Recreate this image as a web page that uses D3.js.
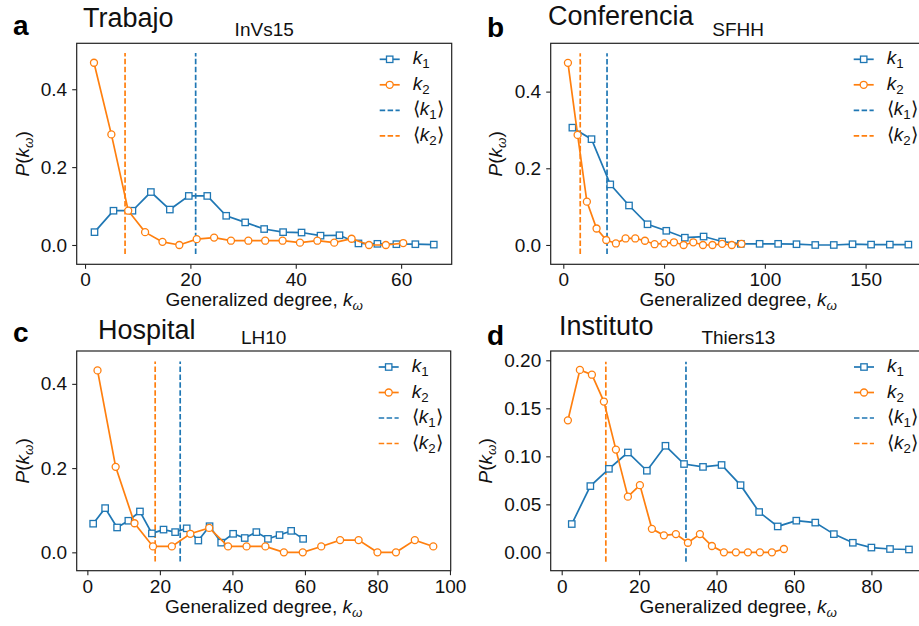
<!DOCTYPE html>
<html>
<head>
<meta charset="utf-8">
<script src="https://cdn.jsdelivr.net/npm/d3@7"></script>
<style>
  body { margin: 0; background: #fff; }
  svg { font-family: "Liberation Sans", Arial, Helvetica, sans-serif; }
</style>
</head>
<body>
<svg width="919" height="626"></svg>
<script>
// Panel a - InVs15 (Trabajo)
var invsK1x = [1.8, 5.4, 9.0, 12.5, 16.1, 19.7, 23.2, 26.8, 30.4, 34.0, 37.6, 41.1, 44.7, 48.3, 51.9, 55.5, 59.1, 62.7, 66.2];
var invsK1y = [0.033, 0.088, 0.088, 0.136, 0.091, 0.126, 0.126, 0.075, 0.058, 0.041, 0.033, 0.032, 0.024, 0.025, 0.004, 0.003, 0.002, 0.002, 0.001];
var invsK2x = [1.7, 5.0, 8.2, 11.4, 14.7, 17.9, 21.2, 24.5, 27.7, 31.0, 34.2, 37.5, 40.8, 44.1, 47.3, 50.6, 53.9, 57.1, 60.4];
var invsK2y = [0.468, 0.284, 0.088, 0.033, 0.008, 0.0, 0.015, 0.019, 0.011, 0.011, 0.011, 0.011, 0.006, 0.011, 0.006, 0.016, 0.0, 0.0, 0.005];

// Panel b - SFHH (Conferencia)
var sfhhK1x = [4.5, 14.0, 23.3, 32.6, 41.8, 51.1, 60.3, 69.6, 78.8, 88.1, 97.4, 106.6, 115.7, 125.0, 134.2, 143.5, 152.7, 162.0, 171.2];
var sfhhK1y = [0.306, 0.276, 0.158, 0.103, 0.054, 0.037, 0.019, 0.022, 0.009, 0.003, 0.003, 0.003, 0.002, 0.0, 0.0, 0.002, 0.001, 0.001, 0.001];
var sfhhK2x = [2.3, 7.1, 11.7, 16.5, 21.3, 26.1, 30.9, 35.7, 40.5, 45.3, 50.1, 54.9, 59.7, 64.5, 69.3, 74.0, 78.8, 83.6, 88.4];
var sfhhK2y = [0.475, 0.287, 0.113, 0.043, 0.013, 0.004, 0.017, 0.017, 0.011, 0.002, 0.004, 0.007, 0.0, 0.007, 0.0, 0.0, 0.003, 0.0, 0.003];

// Panel c - LH10 (Hospital)
var lhK1x = [1.6, 4.9, 8.2, 11.3, 14.5, 17.8, 21.0, 24.2, 27.4, 30.6, 33.7, 36.9, 40.2, 43.4, 46.6, 49.8, 53.0, 56.2, 59.5];
var lhK1y = [0.068, 0.105, 0.059, 0.075, 0.097, 0.045, 0.054, 0.048, 0.057, 0.028, 0.062, 0.023, 0.044, 0.034, 0.048, 0.032, 0.041, 0.051, 0.032];
var lhK2x = [2.8, 7.8, 13.0, 18.1, 23.3, 28.4, 33.6, 38.8, 43.9, 49.1, 54.2, 59.4, 64.5, 69.7, 74.8, 80.0, 85.1, 90.3, 95.4];
var lhK2y = [0.432, 0.203, 0.069, 0.014, 0.014, 0.044, 0.058, 0.014, 0.014, 0.014, 0.0, 0.0, 0.014, 0.029, 0.029, 0.0, 0.0, 0.029, 0.014];

// Panel d - Thiers13 (Instituto)
var thK1x = [2.6, 7.4, 12.2, 17.1, 22.0, 26.8, 31.6, 36.5, 41.3, 46.2, 51.0, 55.8, 60.6, 65.5, 70.3, 75.2, 80.0, 84.8, 89.7];
var thK1y = [0.0295, 0.069, 0.087, 0.104, 0.085, 0.111, 0.092, 0.089, 0.091, 0.070, 0.042, 0.027, 0.033, 0.031, 0.019, 0.010, 0.005, 0.0035, 0.003];
var thK2x = [1.6, 4.7, 7.8, 10.9, 14.0, 17.1, 20.2, 23.3, 26.4, 29.5, 32.6, 35.7, 38.8, 41.9, 45.0, 48.1, 51.2, 54.3, 57.4];
var thK2y = [0.1375, 0.190, 0.185, 0.157, 0.107, 0.058, 0.070, 0.0245, 0.0177, 0.019, 0.010, 0.019, 0.0066, 0.0, 0.0, 0.0, 0.0, 0.0, 0.0035];

// means <k1>, <k2> for panels a..d
var meanK1 = [21.0, 21.7, 25.6, 32.1];
var meanK2 = [7.6, 8.4, 18.7, 11.4];

var letters = ['a', 'b', 'c', 'd'];
var names = ['Trabajo', 'Conferencia', 'Hospital', 'Instituto'];
var datasets = ['InVs15', 'SFHH', 'LH10', 'Thiers13'];

var xTicks = [[0, 20, 40, 60], [0, 50, 100, 150], [0, 20, 40, 60, 80, 100], [0, 20, 40, 60, 80]];
var yTicks = [[0, 0.2, 0.4], [0, 0.2, 0.4], [0, 0.2, 0.4], [0, 0.05, 0.1, 0.15, 0.2]];

var blue = '#1f77b4', orange = '#ff7f0e';

// layout of each panel
var layout = [
  {box: [76.7, 43.3, 451.7, 264.3], xDom: [-1.58, 69.6], yDom: [-0.0496, 0.518], vSpan: [-0.023, 0.493], yFmt: '.1f',
   letterPos: [13, 35], namePos: [83, 27], ylabX: 29},
  {box: [550.7, 43.3, 925.7, 264.3], xDom: [-6.25, 179.8], yDom: [-0.0504, 0.526], vSpan: [-0.0235, 0.5], yFmt: '.1f',
   letterPos: [487, 37], namePos: [548, 24.5], ylabX: 502},
  {box: [76.7, 351, 450.7, 570.7], xDom: [-2.94, 100.2], yDom: [-0.0436, 0.478], vSpan: [-0.022, 0.453], yFmt: '.1f',
   letterPos: [13, 342], namePos: [98, 339], ylabX: 29},
  {box: [550.7, 351, 926, 570.7], xDom: [-2.84, 94.1], yDom: [-0.0191, 0.2097], vSpan: [-0.0097, 0.1986], yFmt: '.2f',
   letterPos: [487, 345], namePos: [559, 335], ylabX: 492}
];

var series = [
  [invsK1x, invsK1y, invsK2x, invsK2y],
  [sfhhK1x, sfhhK1y, sfhhK2x, sfhhK2y],
  [lhK1x, lhK1y, lhK2x, lhK2y],
  [thK1x, thK1y, thK2x, thK2y]
];

var svg = d3.select('svg');
var fs = 19;

// k with subscript helper
function kSub(text, sub, italicSub) {
  text.append('tspan').attr('font-style', 'italic').text('k');
  text.append('tspan').attr('font-size', fs * 0.7).attr('dy', 4)
    .attr('font-style', italicSub ? 'italic' : null).text(sub);
}

function drawPanel(i) {
  var L = layout[i];
  var b = L.box;
  var g = svg.append('g');
  var x = d3.scaleLinear().domain(L.xDom).range([b[0], b[2]]);
  var y = d3.scaleLinear().domain(L.yDom).range([b[3], b[1]]);
  var s = series[i];

  // mean lines
  [[meanK1[i], blue], [meanK2[i], orange]].forEach(function(m) {
    g.append('line')
      .attr('x1', x(m[0])).attr('x2', x(m[0]))
      .attr('y1', y(L.vSpan[0])).attr('y2', y(L.vSpan[1]))
      .attr('stroke', m[1]).attr('stroke-width', 1.7)
      .attr('stroke-dasharray', '5.5,2.4');
  });

  var line = d3.line().x(function(d) { return x(d[0]); }).y(function(d) { return y(d[1]); });

  // k1 squares
  var k1 = d3.zip(s[0], s[1]);
  g.append('path').datum(k1).attr('d', line)
    .attr('fill', 'none').attr('stroke', blue).attr('stroke-width', 1.7);
  g.selectAll('rect.k1').data(k1).enter().append('rect')
    .attr('class', 'k1')
    .attr('x', function(d) { return x(d[0]) - 3.2; })
    .attr('y', function(d) { return y(d[1]) - 3.2; })
    .attr('width', 6.4).attr('height', 6.4)
    .attr('fill', '#fff').attr('stroke', blue).attr('stroke-width', 1.3);

  // k2 circles
  var k2 = d3.zip(s[2], s[3]);
  g.append('path').datum(k2).attr('d', line)
    .attr('fill', 'none').attr('stroke', orange).attr('stroke-width', 1.7);
  g.selectAll('circle.k2').data(k2).enter().append('circle')
    .attr('class', 'k2')
    .attr('cx', function(d) { return x(d[0]); })
    .attr('cy', function(d) { return y(d[1]); })
    .attr('r', 3.5)
    .attr('fill', '#fff').attr('stroke', orange).attr('stroke-width', 1.3);

  // frame
  g.append('rect')
    .attr('x', b[0]).attr('y', b[1])
    .attr('width', b[2] - b[0]).attr('height', b[3] - b[1])
    .attr('fill', 'none').attr('stroke', '#222').attr('stroke-width', 1.2);

  // axes
  var xa = g.append('g').attr('transform', 'translate(0,' + b[3] + ')')
    .call(d3.axisBottom(x).tickValues(xTicks[i]).tickSize(4.5).tickPadding(4).tickFormat(d3.format('d')));
  var ya = g.append('g').attr('transform', 'translate(' + b[0] + ',0)')
    .call(d3.axisLeft(y).tickValues(yTicks[i]).tickSize(4.5).tickPadding(5).tickFormat(d3.format(L.yFmt)));
  [xa, ya].forEach(function(a) {
    a.select('.domain').remove();
    a.selectAll('line').attr('stroke', '#222').attr('stroke-width', 1.1);
    a.selectAll('text').attr('font-size', fs).attr('fill', '#111')
      .attr('font-family', '"Liberation Sans", Arial, sans-serif');
  });

  // x label
  var xl = g.append('text').attr('x', (b[0] + Math.min(b[2], 925.7)) / 2).attr('y', b[3] + 42)
    .attr('text-anchor', 'middle').attr('font-size', fs).attr('fill', '#111');
  xl.append('tspan').text('Generalized degree, ');
  kSub(xl, 'ω', true);

  // y label
  var yl = g.append('text')
    .attr('transform', 'translate(' + L.ylabX + ',' + ((b[1] + b[3]) / 2) + ') rotate(-90)')
    .attr('text-anchor', 'middle').attr('font-size', fs).attr('fill', '#111');
  yl.append('tspan').attr('font-style', 'italic').text('P');
  yl.append('tspan').text('(');
  yl.append('tspan').attr('font-style', 'italic').text('k');
  yl.append('tspan').attr('font-size', fs * 0.7).attr('dy', 4).attr('font-style', 'italic').text('ω');
  yl.append('tspan').attr('dy', -4).text(')');

  // titles
  g.append('text').attr('x', (b[0] + b[2]) / 2).attr('y', b[1] - 7.5)
    .attr('text-anchor', 'middle').attr('font-size', fs).attr('fill', '#111').text(datasets[i]);
  g.append('text').attr('x', L.namePos[0]).attr('y', L.namePos[1])
    .attr('font-size', 27).attr('fill', '#111').text(names[i]);
  g.append('text').attr('x', L.letterPos[0]).attr('y', L.letterPos[1])
    .attr('font-size', 28).attr('font-weight', 'bold').attr('fill', '#000').text(letters[i]);

  // legend
  var lx = b[2] - 72, ly = b[1] + 16, step = 25.5;
  var items = [
    {c: blue, kind: 'square', sub: '1', br: false},
    {c: orange, kind: 'circle', sub: '2', br: false},
    {c: blue, kind: 'dash', sub: '1', br: true},
    {c: orange, kind: 'dash', sub: '2', br: true}
  ];
  items.forEach(function(it, j) {
    var yy = ly + j * step;
    var lg = g.append('g');
    if (it.kind === 'dash') {
      lg.append('line').attr('x1', lx).attr('x2', lx + 20).attr('y1', yy).attr('y2', yy)
        .attr('stroke', it.c).attr('stroke-width', 1.7).attr('stroke-dasharray', '5.5,2.4');
    } else {
      lg.append('line').attr('x1', lx).attr('x2', lx + 20).attr('y1', yy).attr('y2', yy)
        .attr('stroke', it.c).attr('stroke-width', 1.7);
      if (it.kind === 'square') {
        lg.append('rect').attr('x', lx + 10 - 3.2).attr('y', yy - 3.2).attr('width', 6.4).attr('height', 6.4)
          .attr('fill', '#fff').attr('stroke', it.c).attr('stroke-width', 1.3);
      } else {
        lg.append('circle').attr('cx', lx + 10).attr('cy', yy).attr('r', 3.5)
          .attr('fill', '#fff').attr('stroke', it.c).attr('stroke-width', 1.3);
      }
    }
    var t = lg.append('text').attr('x', lx + 33).attr('y', yy + 5)
      .attr('font-size', fs).attr('fill', '#111');
    if (it.br) t.append('tspan').text('⟨');
    kSub(t, it.sub, false);
    if (it.br) t.append('tspan').attr('dy', -4).text('⟩');
  });
}

for (var i = 0; i < 4; i++) drawPanel(i);
</script>
</body>
</html>
